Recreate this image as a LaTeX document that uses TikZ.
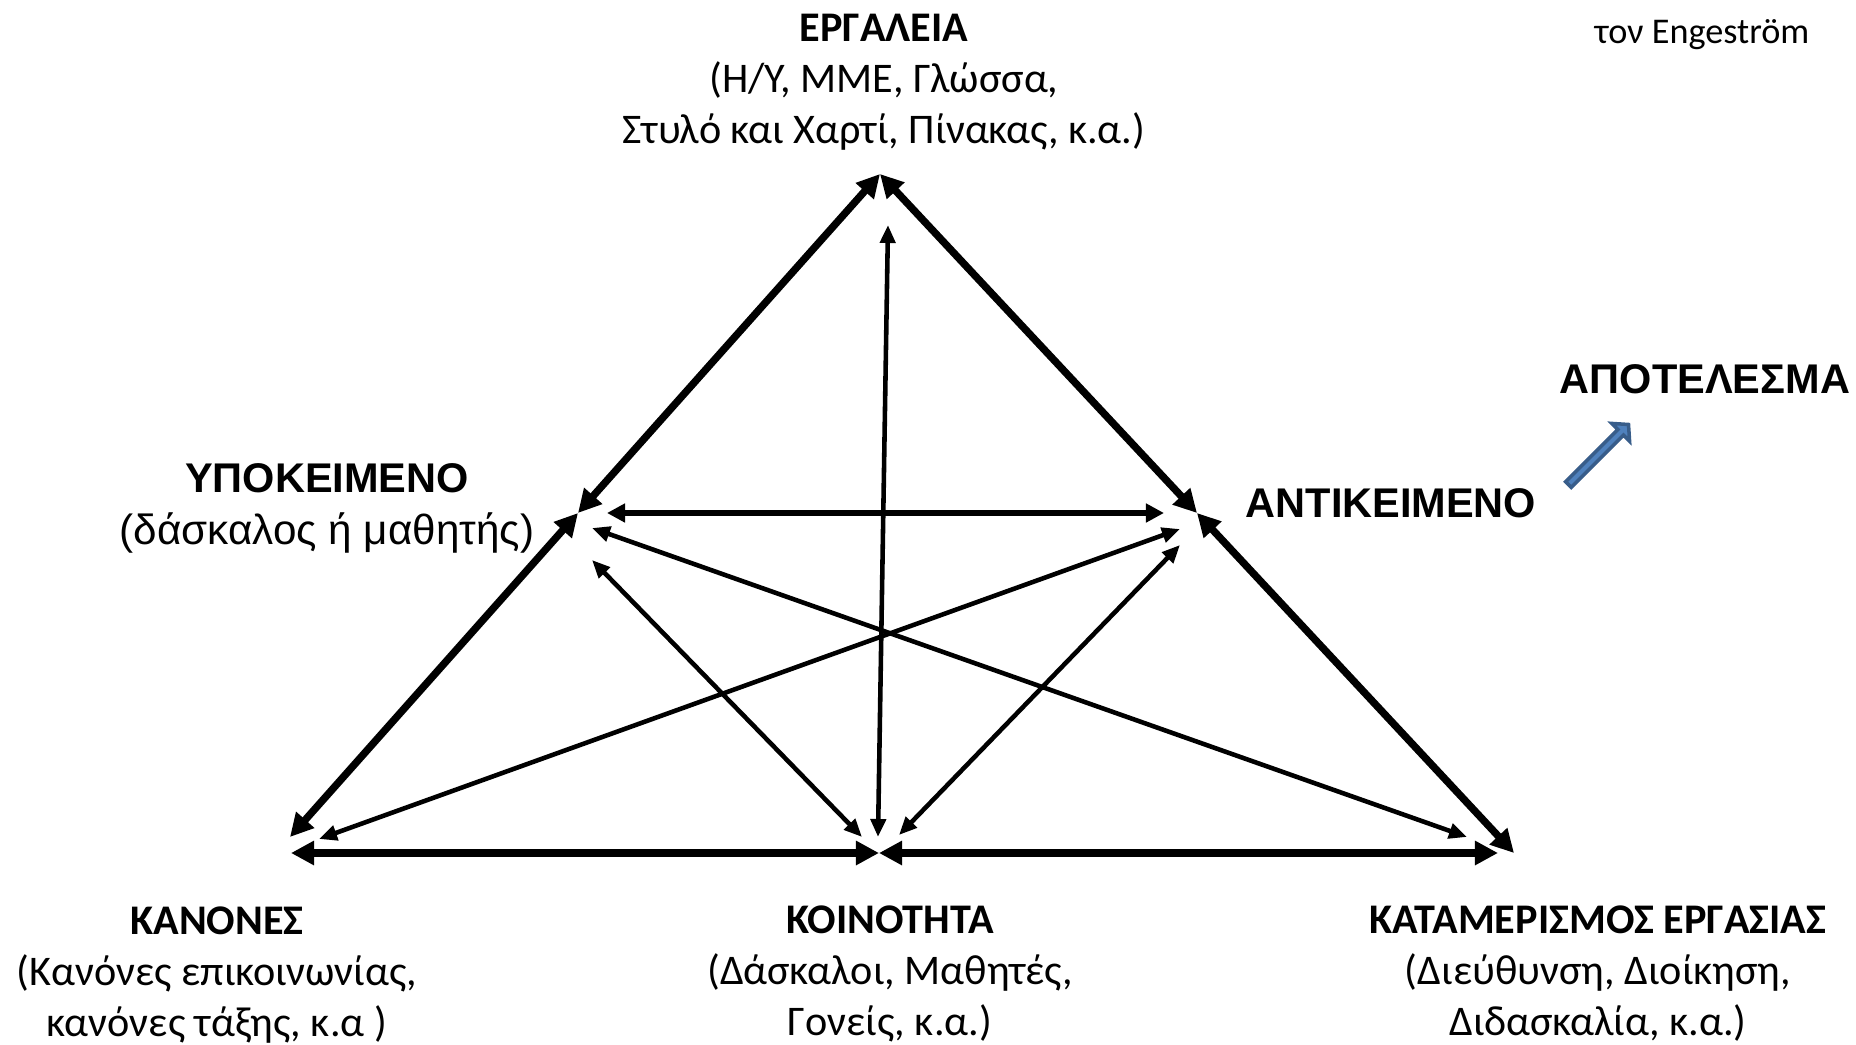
\documentclass[tikz,border=0pt]{standalone}
\usepackage{fontspec}
\setmainfont{Carlito}
\newfontfamily\arialfont{Liberation Sans}
\usepackage{tikz}
\usetikzlibrary{arrows.meta}
\definecolor{outfill}{RGB}{79,129,189}
\definecolor{outline}{RGB}{56,93,138}
\tikzset{
x=0.01cm, y=-0.01cm,
bigarrow/.style={line width=2.1pt,
  {Triangle[length=0.23cm,width=0.23cm]}-{Triangle[length=0.23cm,width=0.23cm]}},
midarrow/.style={line width=1.55pt,
  {Triangle[length=0.18cm,width=0.18cm]}-{Triangle[length=0.18cm,width=0.18cm]}},
thinarrow/.style={line width=1.3pt,
  {Triangle[length=0.18cm,width=0.15cm]}-{Triangle[length=0.18cm,width=0.15cm]}},
calibri/.style={font=\fontsize{12}{14.5}\selectfont, align=center, inner sep=0pt, anchor=base},
arialbold/.style={font=\arialfont\bfseries\fontsize{11.8}{14.6}\selectfont, align=center, inner sep=0pt, anchor=base},
result/.style={fill=outfill, draw=outline, line width=1pt, line join=miter},
}

\begin{document}
\begin{tikzpicture}
\useasboundingbox (0,0) rectangle (1856,1045);

% corners of the triangle
\coordinate (T) at (880,174);
\coordinate (S) at (578,513);
\coordinate (O) at (1197,513);
\coordinate (R) at (290,837);
\coordinate (D) at (1514,853);
\coordinate (C) at (879,853);
\coordinate (RB) at (291,853);
\coordinate (DB) at (1498,853);

% ends of the inner arrows
\coordinate (so1) at (607,513);  \coordinate (so2) at (1164,513);
\coordinate (sd1) at (592,528);  \coordinate (sd2) at (1467,837);
\coordinate (or1) at (1180,529); \coordinate (or2) at (319,839);
\coordinate (sc1) at (592,560);  \coordinate (sc2) at (862,837);
\coordinate (oc1) at (1180,545); \coordinate (oc2) at (899,835);
\coordinate (tc1) at (888,225);  \coordinate (tc2) at (878,837);

% labels (placed at the baseline of their last line)
\node[calibri] (tools) at (884,143)
  {\textbf{ΕΡΓΑΛΕΙΑ}\\(Η/Υ, ΜΜΕ, Γλώσσα,\\Στυλό και Χαρτί, Πίνακας, κ.α.)};
\node[arialbold] (subject) at (327,544)
  {ΥΠΟΚΕΙΜΕΝΟ\\{\mdseries\fontsize{12}{14.6}\selectfont(δάσκαλος ή μαθητής)}};
\node[arialbold] (object) at (1391,517) {ΑΝΤΙΚΕΙΜΕΝΟ};
\node[arialbold] (outcome) at (1705,393) {ΑΠΟΤΕΛΕΣΜΑ};
\node[calibri, font=\fontsize{10.3}{12}\selectfont] (source) at (1702,43) {τον Engeström};
\node[calibri] (rules) at (217,1036)
  {\textbf{ΚΑΝΟΝΕΣ}\\(Κανόνες επικοινωνίας,\\κανόνες τάξης, κ.α )};
\node[calibri] (community) at (890,1035)
  {\textbf{ΚΟΙΝΟΤΗΤΑ}\\(Δάσκαλοι, Μαθητές,\\Γονείς, κ.α.)};
\node[calibri] (division) at (1598,1035)
  {\textbf{ΚΑΤΑΜΕΡΙΣΜΟΣ ΕΡΓΑΣΙΑΣ}\\(Διεύθυνση, Διοίκηση,\\Διδασκαλία, κ.α.)};

% outer triangle
\draw[bigarrow] (T) -- (S);
\draw[bigarrow] (S) -- (R);
\draw[bigarrow] (T) -- (O);
\draw[bigarrow] (O) -- (D);
\draw[bigarrow] (RB) -- (C);
\draw[bigarrow] (C) -- (DB);

% inner arrows
\draw[midarrow] (so1) -- (so2);
\foreach \a/\b in {sd1/sd2, or1/or2, sc1/sc2, oc1/oc2, tc1/tc2}
  \draw[thinarrow] (\a) -- (\b);

% outcome arrow
\draw[result, shift={(1567,486)}, rotate=45]
  (2,-4) -- (76,-4) -- (76,-12.5) -- (87,0) -- (76,12.5) -- (76,4) -- (2,4) -- cycle;
\end{tikzpicture}
\end{document}
